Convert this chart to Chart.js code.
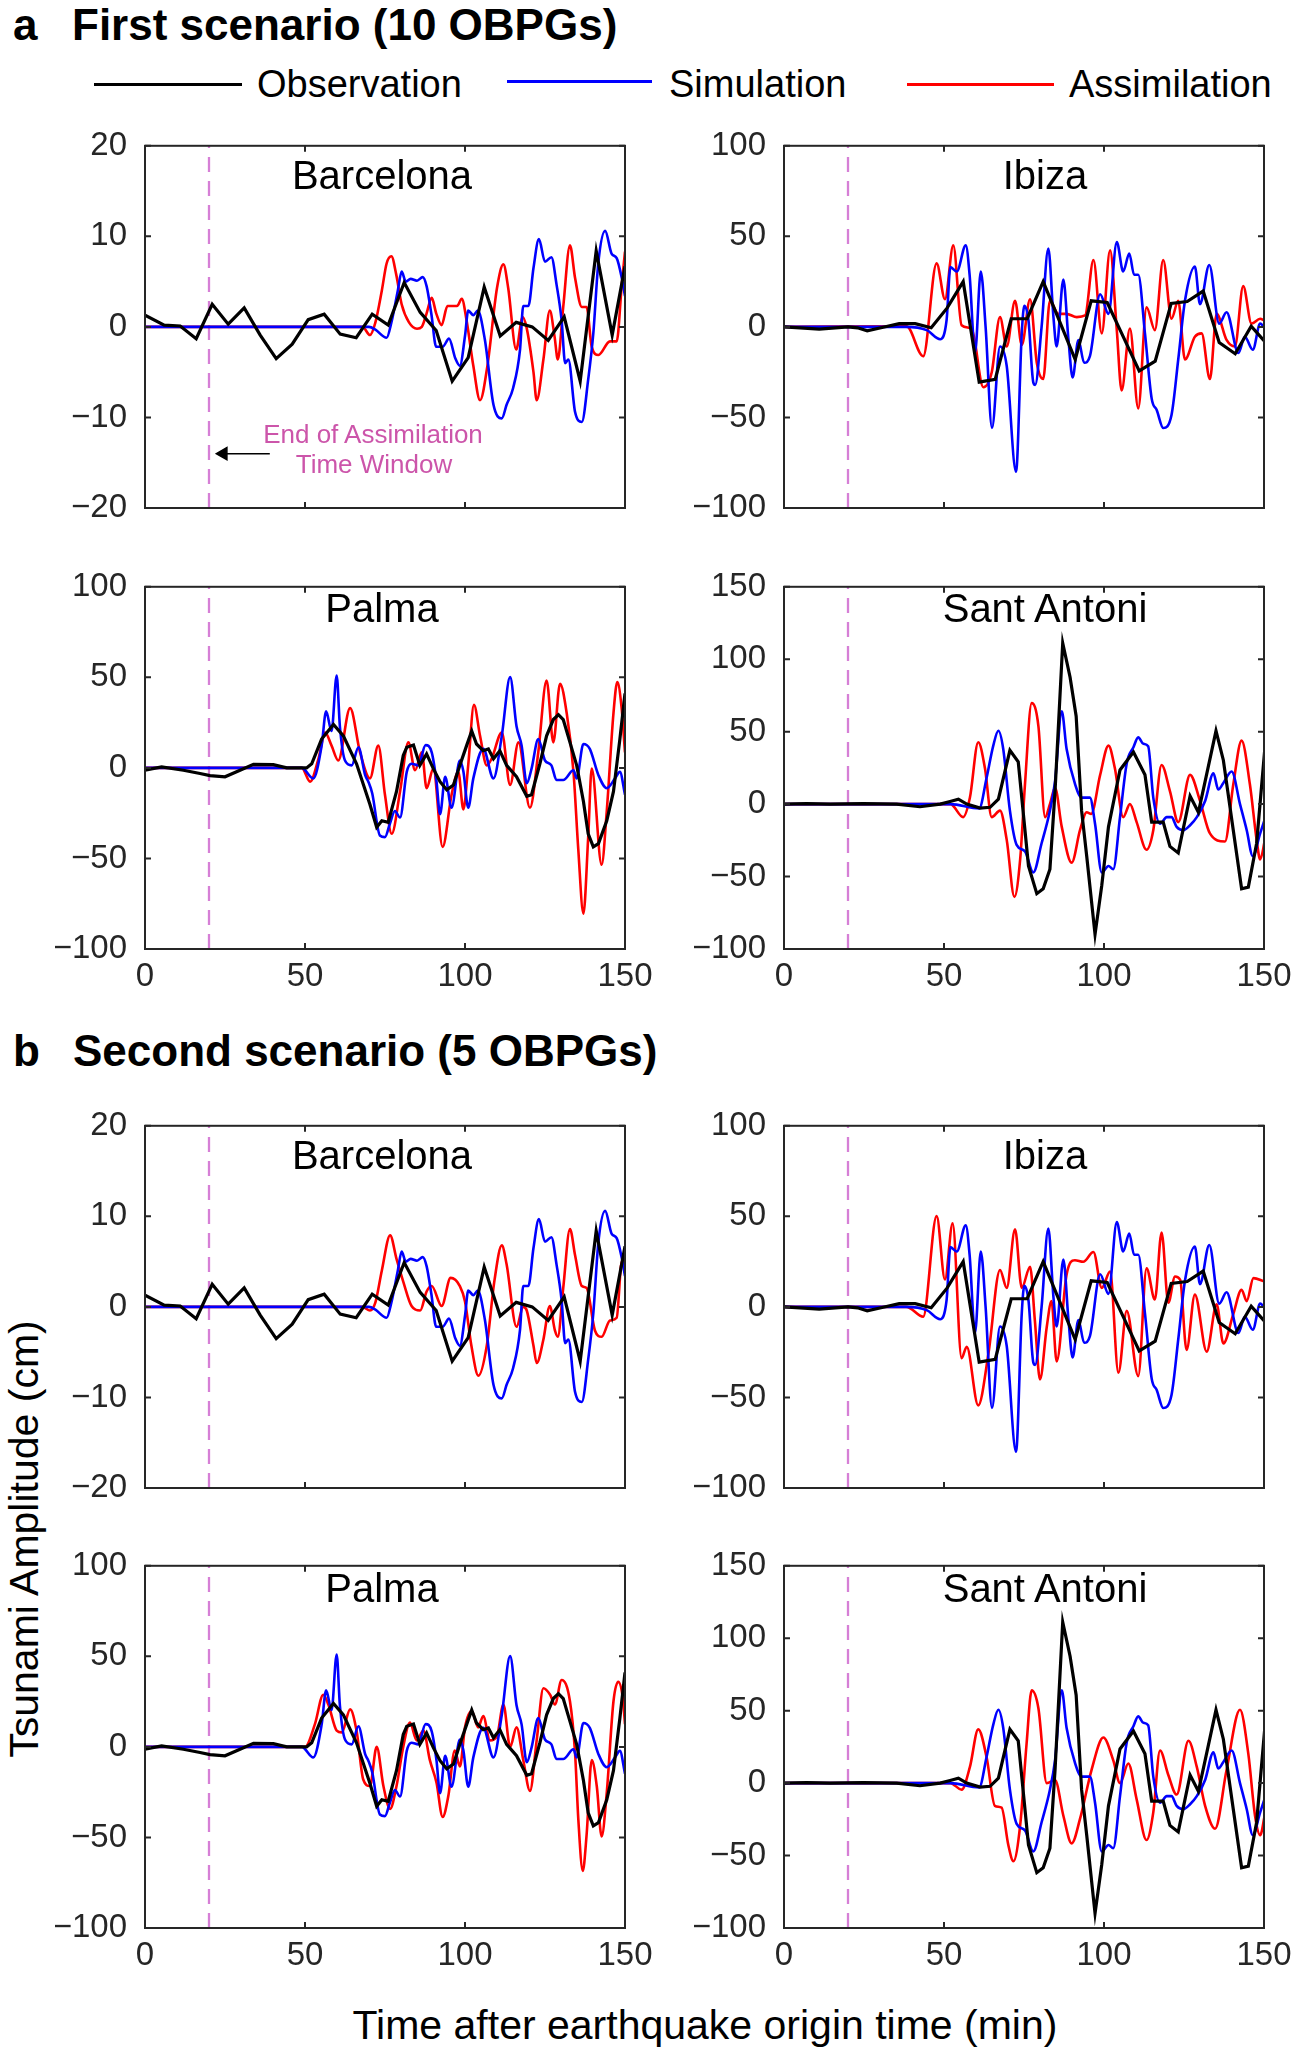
<!DOCTYPE html>
<html lang="en">
<head>
<meta charset="UTF-8">
<title>Tsunami amplitude: observation, simulation and assimilation</title>
<script src="https://cdn.jsdelivr.net/npm/chart.js"></script>
<style>
  body { margin: 0; background: #fff; }
  #figure {
    position: relative;
    width: 1299px;
    height: 2054px;
    overflow: hidden;
    font-family: "Liberation Sans", Arial, sans-serif;
    color: #000;
  }
  .panel { position: absolute; }
  .txt { position: absolute; line-height: 1; white-space: nowrap; }
  .legline { position: absolute; height: 3px; }
</style>
</head>
<body>
<div id="figure"></div>
<script>
// ---- data (minutes after origin time, amplitude in cm) ----
const stationNames = ['Barcelona', 'Ibiza', 'Palma', 'Sant Antoni'];
const seriesLabels = ['Observation', 'Simulation', 'Assimilation'];
const timeTicks = [0, 50, 100, 150];
const yMin = [-20, -100, -100, -100];
const yMax = [20, 100, 100, 150];
const yStep = [10, 50, 50, 50];
const assimilationEnd = 20;
const arrowLine = [[39, -14], [24.5, -14]];

const barcelonaObs = [[0,1.3],[6,0.2],[11,0.1],[16,-1.3],[21,2.5],[26,0.3],[31,2.1],[36,-0.9],[41,-3.5],[46,-1.9],[51,0.8],[56,1.4],[61,-0.8],[66,-1.2],[71,1.4],[76,0.2],[81,4.9],[86,1.6],[91,-0.4],[96,-6.0],[101,-3.4],[106,4.4],[111,-1.0],[116,0.5],[121,0],[126,-1.5],[131,1.1],[136,-6.0],[141,8.4],[146,-0.9],[150,6.7]];
const barcelonaSim = [[0,0],[70,0],[72,-0.3],[75.5,-1.2],[77,0.5],[79,4],[80.2,6.1],[81.5,5.0],[83,5.3],[85,5.1],[86.8,5.5],[88,4.5],[89.5,1.4],[91,-2.2],[93,-2.2],[95,-1.3],[97,-3.5],[98.4,-4.3],[100,-1],[101,1.8],[102.6,1.3],[104,1.8],[106.2,-1.4],[108.9,-8.6],[111.5,-10.1],[113,-8.6],[115,-6.8],[117.2,-2.5],[118.2,2.3],[119.8,2.3],[121.4,6.5],[123.1,9.7],[125,7.2],[127,7.7],[128.6,4.7],[130.2,0.7],[131.3,-4],[132.3,-3.6],[134.4,-9.4],[136.5,-10.5],[138.5,-5.8],[140.1,-0.7],[141.7,7.2],[143.8,10.6],[145.8,8.1],[147.4,7.6],[149,5.4],[150,3.4]];
const barcelonaAssimA = [[0,0],[68,0],[70.3,-0.9],[72,0.5],[74,4],[75.5,7],[77,7.8],[78.5,5.8],[80.2,2.5],[82.5,0.5],[85,-0.2],[86.5,0],[88,1.5],[89.6,3.2],[91,1.5],[92.7,0.2],[94.5,2.3],[96,2.3],[97.5,2.3],[99,3.1],[100.5,0.7],[102.6,-4.3],[104.7,-8.1],[107,-4.3],[110,4.3],[112,6.9],[113.5,4.3],[116,-2.5],[118,1.1],[119.2,0],[121.4,-5],[122.4,-8.1],[124.5,-3.6],[126.5,1.8],[128,-1.1],[129,-3.6],[130.7,2.2],[132.8,9.0],[134.4,5.4],[136.5,2.2],[138,2.2],[139.6,-2.2],[141.7,-3.1],[145.3,-1.6],[147.4,-1.6],[149,4.7],[150,8.3]];
const barcelonaAssimB = [[0,0],[68,0],[70.3,-0.4],[72,0.5],[74,4],[76.6,7.9],[78.6,5.3],[80.7,2.8],[83.3,0.1],[86,-0.4],[88,1.7],[89.6,2.3],[92.7,0.1],[95.5,3.2],[98.4,2.3],[100,0.6],[102,-4.3],[104.2,-7.6],[106.8,-4.3],[109.2,2.9],[111.5,6.8],[113,4.7],[116.1,-2.2],[118.2,0],[119.3,-0.4],[121.4,-4.3],[122.4,-6.2],[124.5,-3.6],[126.5,0.1],[128.1,-2.6],[129,-3.3],[130.7,2.1],[132.8,8.6],[134.4,5.7],[136.5,2.3],[138,2.1],[140.6,-2.6],[142.7,-3.3],[145.3,-1.5],[147.4,-1.2],[149,5.0],[150,5.0]];

const ibizaObs = [[0,0],[5,-0.5],[11,-1.2],[16,-0.5],[20,0],[23,-0.5],[26,-2.2],[31,-0.2],[36,1.8],[41,1.8],[46,-0.5],[51,10.5],[56,25],[61,-30.5],[66,-29],[71,4.5],[76,4.5],[81,25],[86,3.6],[91,-18],[96,14.4],[101,13.5],[106,-5.4],[111,-24.3],[116,-18.9],[121,13],[126,14],[131,19.8],[136,-8.6],[141,-14.8],[146,0.4],[150,-7.6]];
const ibizaSim = [[0,0],[38,0],[44.6,-1.8],[48.8,-6.8],[50.8,3.6],[52,33],[54,30.6],[56.8,45],[58,28.8],[59.7,-14.4],[61.5,30.6],[63,0],[65,-55.8],[67.5,-10.8],[69.6,-21.6],[72.5,-80],[74.3,-3.6],[75.1,11.7],[76.4,3.6],[77.9,-30.6],[78.5,-32],[80.5,0],[82.6,43.2],[84.2,5.4],[85.2,-10.8],[87.3,26.1],[88.9,-7.2],[90.2,-27.9],[92,-7.2],[93.8,-19.8],[95.6,-16.2],[98.8,18],[101.4,7.2],[104,46.8],[106,30.6],[107.9,40.5],[109.4,28.8],[110.7,28.8],[112.8,-3.6],[114.9,-39.6],[116.5,-46],[118.5,-55.8],[121.1,-48.6],[123.2,-18],[125.3,14.4],[128.4,33.3],[130,12.6],[132.9,34.2],[136,1.8],[138.3,8.1],[142,-14.4],[144,-5.4],[146.5,-12.6],[148.8,1.8],[150,0]];
const ibizaAssimA = [[0,0],[38.3,0.4],[43.5,-16.2],[47.7,35.1],[50.3,15.3],[52.9,45],[55.5,0.9],[58.6,-0.9],[62.3,-33.3],[64.9,-25.2],[67.5,5.4],[69.6,-10.8],[72.2,14.4],[74.3,-9.9],[76.9,15.3],[79,-19.8],[81,-28.8],[83.1,14.4],[85.7,7.2],[88.3,7.2],[91.5,5.4],[94.1,6.3],[96.7,36.9],[99.3,-3.6],[101.9,42.3],[104,-1.8],[105.5,-35.1],[108.1,-0.9],[110.7,-45],[113.3,10.8],[115.9,-1.8],[118.5,36.9],[121.1,4.5],[123.2,14.4],[125.3,-18],[128.4,-5.4],[130.5,-3.6],[133.1,-28.8],[135.2,7.2],[138.3,-7.2],[140.9,-10.8],[143.5,22.5],[146.1,1.8],[148.8,4.5],[150,3.6]];
const ibizaAssimB = [[0,0],[38.3,0],[43.5,-5.4],[47.7,50.1],[50.3,15.1],[52.7,46.1],[55.5,-28.3],[57.1,-22],[60.7,-54.4],[63.9,-25.6],[67.5,20.4],[69.6,10.5],[72.2,42.9],[74.3,10.5],[76.9,22.2],[78.4,-7.6],[80,-40],[82.1,-11.2],[83.6,3.2],[85.2,-30.1],[88.3,17.7],[90.9,25.8],[93.5,24.9],[96.7,30.3],[99.3,10.5],[101.9,19.5],[104.5,-36.4],[107.1,-2.2],[110.7,-38.2],[113.3,21.3],[115.9,4.1],[118,41.1],[120.1,2.3],[122.2,16.8],[123.8,15],[125.8,-23.8],[128.4,6.8],[132.1,-24.7],[135.2,1.4],[137.3,-20.2],[140.4,-4],[143,9.5],[144.6,3.2],[146.7,15.9],[150,14.1]];

const palmaObs = [[0,-1.3],[5.2,0.5],[12,-1.3],[17.2,-3.1],[20.3,-4.3],[25,-4.9],[29.7,-1.3],[33.9,2],[40.1,1.8],[44.3,0],[50.5,0],[52.1,2.3],[55.2,15.9],[58.9,24],[62,17.7],[66.1,2.3],[70.3,-20.2],[72.4,-32.8],[74,-29.2],[76,-30.1],[78.6,-13],[80.7,6.8],[81.8,11.4],[83.9,12.6],[85.9,1.4],[88,7.7],[90.1,-0.4],[92.2,-7.6],[94.3,-12.1],[96.4,-9.4],[98.4,1.4],[100.5,12.3],[102.1,20.4],[103.6,13.2],[105.7,9.5],[107.3,10.5],[108.9,5],[110.9,9.5],[113,1.4],[116.1,-4.9],[119.3,-15.7],[120.8,-14.8],[123.4,2.3],[125.5,17.7],[127.6,26.7],[129.2,29.4],[130.7,26.7],[132.8,14.1],[134.9,1.4],[137,-18.4],[138.5,-36.4],[140.1,-43.6],[141.7,-41.8],[144.3,-29.2],[146.4,-13],[148.4,15.9],[150,41.1]];
const palmaSim = [[0,0],[49,0],[52.6,-5.8],[55.2,12.3],[56.6,31.2],[58.3,20.4],[59.9,51],[60.9,23],[62.5,4.1],[64.6,1.4],[66.7,11.4],[68.8,-4],[69.8,-7.6],[71,-14],[73.4,-37.3],[75,-38.2],[76.5,-31],[78.1,-23.8],[79.7,-27.4],[81.8,-2.2],[83.3,2.3],[85.4,1.4],[87.7,12.6],[89.6,8.6],[91.1,-7.6],[92.2,-25.6],[93.8,-4.9],[95.8,-22],[98.4,4.1],[99.5,-2],[101,-22],[102.6,-5.8],[105.7,10.5],[108.9,-5.8],[111.5,17.7],[114.1,50.1],[116.1,23],[117.7,12.3],[119.3,-8.5],[120.8,-0.4],[122.9,15.9],[125,4.1],[127,1.4],[128.6,-6.7],[130.7,-6.7],[133.9,-1.3],[134.9,-5.8],[137,13.2],[139,10.5],[141.7,-4],[144.3,-11.2],[146.9,-5.8],[148.4,-2.2],[150,-14.8]];
const palmaAssimA = [[0,0],[49,0],[51.6,-7.6],[54.2,5],[56.3,19.5],[58.3,12.3],[60.4,4.1],[64.1,33],[67.2,8.6],[70.3,-5.8],[72.9,12.3],[75,-15],[77.1,-36.4],[79.7,-13],[82.3,14.1],[84.4,-1.3],[86.5,8.6],[88,-11.2],[90.1,-0.4],[93,-43.6],[95.8,-14.8],[97.9,-2.2],[99.5,-22.9],[101,1.4],[102.8,34.8],[104.7,17.7],[106.8,1.4],[108.3,5],[111.5,19.5],[114.1,-9.4],[116.7,14.1],[120.3,-22],[122.9,8.6],[125.5,48.3],[127.6,14.1],[129.7,46.5],[131.8,30],[133.9,-2.2],[135.4,-45],[137,-80.5],[138.5,-38.2],[139.6,-0.4],[142.7,-53.5],[144.3,-23.8],[146.4,30.3],[147.6,47.4],[148.9,33.9],[150,8.6]];
const palmaAssimB = [[0,0],[50,0],[53.1,12.6],[55.7,28.8],[57.3,23.4],[59.9,9],[61.5,8],[64.1,20.7],[66.1,9],[68.2,-18],[70.3,-21.6],[72.4,0],[74.5,-21.6],[76.6,-34.2],[78.6,-21.6],[80.7,0],[82.8,13.5],[84.9,3.6],[87,9],[89,-7.2],[91.1,-19.8],[93,-38.7],[94.8,-27],[96.8,-2],[98.4,-10.8],[100,10.8],[102.1,19.8],[104.1,10.8],[105.7,17.1],[107.8,3.6],[110,6],[112,23.4],[114.1,0],[116.1,10.8],[118.2,-7.2],[120.3,-24.3],[122.4,3.6],[124.5,32.4],[126.6,28.8],[128.1,23.4],[130.2,36.9],[132.8,25.2],[134.4,-3.6],[135.4,-39.6],[136.8,-68.5],[138,-48.6],[139.6,-7.2],[141.2,-22],[142.7,-49.5],[144.3,-25.2],[146.4,25.2],[147.9,36],[149.3,27],[150,12.6]];

const santAntoniObs = [[0,0],[7.1,0.4],[14.4,0],[24.8,0.4],[35.2,0],[42.5,-1.8],[48.8,0],[51.9,1.8],[54.5,3.4],[57.1,0],[61.3,-2.7],[64.4,-2.2],[67,3.4],[70.6,37.1],[73.2,29.2],[76.4,-42.7],[79,-61.8],[81,-58.4],[83.1,-44.9],[84.7,9],[87.1,111.2],[89.4,87.6],[91.3,60.7],[93,-4.5],[94.6,-36],[97.2,-89.9],[99.3,-56.2],[101.4,-15.7],[105,23.6],[109.2,36],[112.8,20.2],[114.9,-12.4],[118.5,-12.4],[120.6,-29.2],[123.2,-33.7],[126.9,5.6],[129.5,-5.6],[131.6,15.7],[135,50.6],[137.3,30.3],[140.4,-18],[143,-58.4],[145.1,-57.3],[147.7,-27],[150.3,39.3]];
const santAntoniSim = [[0,0],[52,0],[61,-3],[63.3,18],[65.4,40.4],[67,50.6],[68.5,38.2],[70.6,-4.5],[72.7,-28.1],[75.3,-32.6],[77.9,-47.2],[80.5,-27],[83.1,-4.5],[84.7,15.7],[86.8,64],[88.3,38.2],[91,13.5],[93,4.5],[95.6,4.5],[97.2,-13.5],[99.3,-47.2],[101.4,-42.7],[102.9,-44.9],[105,-9],[107.1,28.1],[109.2,39.3],[110.7,46.1],[112.3,41.6],[113.8,40],[115.4,4.5],[117.5,-13.5],[119.6,-9],[121.1,-9],[122.7,-15.7],[124.8,-18],[126.9,-14.6],[129,-9],[131.6,2.2],[134.2,21.3],[135.7,10.1],[137.3,14.6],[139.9,22.5],[142.5,0],[144.6,-18],[146.5,-36],[148.8,-20.2],[150.3,-10.1]];
const santAntoniAssimA = [[0,0],[52,0],[56,-9],[58.1,4.5],[60.7,42.7],[62.8,24.7],[64.9,-9],[67.5,-4.5],[69.6,-24.7],[72,-64],[73.8,-38.2],[75.3,13.5],[77.4,69.7],[79.5,53.9],[81.6,-9],[83.1,0],[84.7,11.2],[86.8,-15.7],[89.9,-40.4],[92.5,-18],[94.6,-5.6],[96,-6.7],[98.8,20.2],[101.4,40.4],[103.4,24.7],[106,-9],[108.1,0],[110.2,-12.4],[113.3,-31.5],[115.4,-18],[118,27],[120.6,9],[123.2,-12.4],[126.9,20.2],[130,2.2],[133.1,-20.2],[137.8,-25.8],[140.4,13.5],[143,43.8],[145.6,13.5],[147.7,-24.7],[148.8,-38.2],[150.3,-24.7]];
const santAntoniAssimB = [[0,0],[52,0],[55.5,-4.5],[58.1,11.2],[60.7,37.1],[63.3,18],[65.9,-15.7],[68,-16.9],[70.1,-42.7],[71.7,-53.9],[73.8,-29.2],[75.8,27],[77.4,64],[79.5,51.7],[82.1,0],[84.7,2.2],[87.3,-22.5],[89.9,-41.6],[92.5,-24.7],[96.1,9],[99.8,31.5],[102.9,15.7],[105,0],[107.6,13.5],[110.2,-11.2],[113.3,-39.3],[115.4,-20.2],[117.5,22.5],[120.1,5.6],[122.7,-7.9],[126.4,29.2],[129,11.2],[131.6,-15.7],[134.7,-31.5],[138.3,9],[142.5,50.6],[145.1,20.2],[147.2,-22.5],[148.8,-36],[150.3,-21.3]];

const observations = [barcelonaObs, ibizaObs, palmaObs, santAntoniObs];
const simulations = [barcelonaSim, ibizaSim, palmaSim, santAntoniSim];
const assimilations = {
  a: [barcelonaAssimA, ibizaAssimA, palmaAssimA, santAntoniAssimA],
  b: [barcelonaAssimB, ibizaAssimB, palmaAssimB, santAntoniAssimB]
};

// ---- layout ----
const FONT = '"Liberation Sans", Arial, sans-serif';
const AXIS_W = 90, AXIS_H = 60, PAD_T = 30, PAD_R = 40;
const PLOT_W = 480, PLOT_H = 370;
const panels = [
  { st: 0, sc: 'a', left: 145, top: 138, showX: false, titleDy: 51, arrow: true },
  { st: 1, sc: 'a', left: 784, top: 138, showX: false, titleDy: 51 },
  { st: 2, sc: 'a', left: 145, top: 579, showX: true, titleDy: 43 },
  { st: 3, sc: 'a', left: 784, top: 579, showX: true, titleDy: 43 },
  { st: 0, sc: 'b', left: 145, top: 1118, showX: false, titleDy: 51 },
  { st: 1, sc: 'b', left: 784, top: 1118, showX: false, titleDy: 51 },
  { st: 2, sc: 'b', left: 145, top: 1558, showX: true, titleDy: 44 },
  { st: 3, sc: 'b', left: 784, top: 1558, showX: true, titleDy: 44 }
];

const fig = document.getElementById('figure');

function addText(txt, x, base, size, o = {}) {
  const d = document.createElement('div');
  d.className = 'txt';
  d.textContent = txt;
  d.style.fontSize = size + 'px';
  d.style.left = x + 'px';
  d.style.top = (base - 0.8465 * size) + 'px';
  if (o.bold) d.style.fontWeight = 'bold';
  if (o.color) d.style.color = o.color;
  if (o.center) d.style.transform = 'translateX(-50%)';
  fig.appendChild(d);
  return d;
}

const toXY = pairs => pairs.map(p => ({ x: p[0], y: p[1] }));
const minusSign = v => String(v).replace('-', '\u2212');

// box around the plot area with inward tick marks (MATLAB style)
const boxPlugin = {
  id: 'box',
  afterDraw(chart) {
    const { ctx, chartArea: a, scales: { x, y } } = chart;
    ctx.save();
    ctx.strokeStyle = '#262626';
    ctx.lineWidth = 2;
    ctx.strokeRect(a.left, a.top, a.right - a.left, a.bottom - a.top);
    ctx.beginPath();
    x.ticks.forEach(t => {
      const px = x.getPixelForValue(t.value);
      ctx.moveTo(px, a.bottom); ctx.lineTo(px, a.bottom - 6);
      ctx.moveTo(px, a.top); ctx.lineTo(px, a.top + 6);
    });
    y.ticks.forEach(t => {
      const py = y.getPixelForValue(t.value);
      ctx.moveTo(a.left, py); ctx.lineTo(a.left + 6, py);
      ctx.moveTo(a.right, py); ctx.lineTo(a.right - 6, py);
    });
    ctx.stroke();
    ctx.restore();
  }
};

function buildPanel(p) {
  const s = p.st;
  const wrap = document.createElement('div');
  wrap.className = 'panel';
  wrap.style.left = (p.left - AXIS_W) + 'px';
  wrap.style.top = (p.top - PAD_T) + 'px';
  wrap.style.width = (AXIS_W + PLOT_W + PAD_R) + 'px';
  wrap.style.height = (PAD_T + PLOT_H + AXIS_H) + 'px';
  const cv = document.createElement('canvas');
  wrap.appendChild(cv);
  fig.appendChild(wrap);

  const datasets = [
    { label: seriesLabels[0], data: toXY(observations[s]), borderColor: '#000000',
      borderWidth: 3.2, tension: 0, order: 0 },
    { label: seriesLabels[1], data: toXY(simulations[s]), borderColor: '#0000ff',
      borderWidth: 2.6, tension: 0.4, cubicInterpolationMode: 'monotone', order: 1 },
    { label: seriesLabels[2], data: toXY(assimilations[p.sc][s]), borderColor: '#ff0000',
      borderWidth: 2.6, tension: 0.4, cubicInterpolationMode: 'monotone', order: 2 },
    { label: 'end of window', data: [{ x: assimilationEnd, y: yMin[s] }, { x: assimilationEnd, y: yMax[s] }],
      borderColor: '#d67fd6', borderWidth: 2.3, borderDash: [15, 9], order: 3 }
  ];
  if (p.arrow) {
    datasets.push({
      label: 'arrow', data: toXY(arrowLine), borderColor: '#000000', borderWidth: 1.5,
      pointRadius: [0, 7], pointStyle: 'triangle', pointRotation: -90,
      pointBackgroundColor: '#000000', pointBorderColor: '#000000', order: 0
    });
  }

  new Chart(cv, {
    type: 'line',
    data: { datasets },
    options: {
      responsive: true,
      maintainAspectRatio: false,
      animation: false,
      layout: { padding: { top: PAD_T, right: PAD_R, left: 0, bottom: 0 } },
      elements: { point: { radius: 0 } },
      plugins: { legend: { display: false }, tooltip: { enabled: false } },
      scales: {
        x: {
          type: 'linear',
          min: timeTicks[0],
          max: timeTicks[timeTicks.length - 1],
          afterFit: sc => { sc.height = AXIS_H; },
          grid: { display: false, drawTicks: false },
          border: { display: false },
          ticks: {
            display: p.showX, stepSize: 50, autoSkip: false, maxRotation: 0,
            padding: 8, color: '#262626', font: { family: FONT, size: 33 }
          }
        },
        y: {
          min: yMin[s],
          max: yMax[s],
          afterFit: sc => { sc.width = AXIS_W; },
          grid: { display: false, drawTicks: false },
          border: { display: false },
          ticks: {
            stepSize: yStep[s], autoSkip: false, padding: 18, color: '#262626',
            font: { family: FONT, size: 33 },
            callback: v => minusSign(v)
          }
        }
      }
    },
    plugins: [boxPlugin]
  });

  // station name inside the axes
  const cx = p.left + (p.left < 500 ? 237 : 261);
  addText(stationNames[s], cx, p.top + p.titleDy, 40, { center: true });
}

panels.forEach(buildPanel);

// ---- headings ----
addText('a', 13, 40, 44, { bold: true });
addText('First scenario (10 OBPGs)', 72, 40, 44, { bold: true });
addText('b', 13, 1066, 44, { bold: true });
addText('Second scenario (5 OBPGs)', 73, 1066, 44, { bold: true });

// ---- legend ----
const legendLines = [
  { x: 94, w: 148, y: 83, color: '#000000', tx: 257 },
  { x: 507, w: 145, y: 80, color: '#0000ff', tx: 669 },
  { x: 907, w: 147, y: 83, color: '#ff0000', tx: 1069 }
];
legendLines.forEach((l, i) => {
  const d = document.createElement('div');
  d.className = 'legline';
  d.style.left = l.x + 'px';
  d.style.top = l.y + 'px';
  d.style.width = l.w + 'px';
  d.style.background = l.color;
  fig.appendChild(d);
  addText(seriesLabels[i], l.tx, 97, 38);
});

// ---- annotation ----
addText('End of Assimilation', 373, 443, 26, { center: true, color: '#cc55aa' });
addText('Time Window', 374, 473, 26, { center: true, color: '#cc55aa' });

// ---- axis titles ----
addText('Time after earthquake origin time (min)', 705, 2040, 41, { center: true });
const yl = document.createElement('div');
yl.className = 'txt';
yl.textContent = 'Tsunami Amplitude (cm)';
yl.style.fontSize = '41px';
yl.style.left = '24px';
yl.style.top = '1539px';
yl.style.transform = 'translate(-50%, -50%) rotate(-90deg)';
fig.appendChild(yl);
</script>
</body>
</html>
